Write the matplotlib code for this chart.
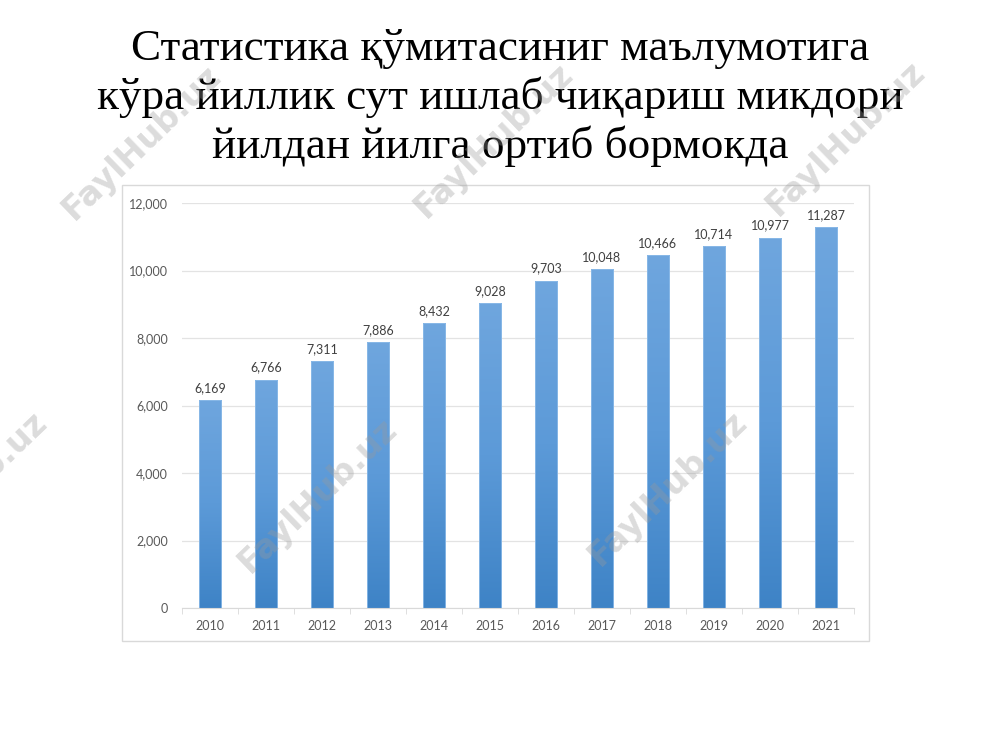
import numpy as np
import matplotlib.pyplot as plt
from matplotlib.ticker import FuncFormatter, MultipleLocator, FixedLocator
from matplotlib.patches import Rectangle
from matplotlib.colors import LinearSegmentedColormap

# data
years = ["2010", "2011", "2012", "2013", "2014", "2015",
         "2016", "2017", "2018", "2019", "2020", "2021"]
milk = [6169, 6766, 7311, 7886, 8432, 9028,
        9703, 10048, 10466, 10714, 10977, 11287]

title = ("Статистика қўмитасиниг маълумотига\n"
         "кўра йиллик сут ишлаб чиқариш микдори\n"
         "йилдан йилга ортиб бормокда")

# watermark centres in pixels (x, y from top)
wm_pos = [(142, 142), (494, 140), (846, 138), (318, 495), (668, 488), (-32, 488)]

plt.rcParams['font.family'] = ['Lato', 'DejaVu Sans']

fig = plt.figure(figsize=(10, 7.5), dpi=100)
fig.patch.set_facecolor("white")

# outer chart frame
fig.add_artist(Rectangle((122 / 1000, 1 - 641 / 750), (869 - 122) / 1000, (641 - 185) / 750,
                         transform=fig.transFigure, fill=False,
                         edgecolor="#d9d9d9", linewidth=1.0))

fig.text(0.5, 1 - 98 / 750, title, ha="center", va="center",
         fontsize=32.5, family="Liberation Serif", linespacing=1.22, color="black")

ax = fig.add_axes([0.182, 1 - 608 / 750, 0.672, 405 / 750])
x = np.arange(len(years))
bars = ax.bar(x, milk, width=0.4, color="none", edgecolor="#8dbbe8",
              linewidth=0.6, zorder=3)

# vertical gradient inside each bar
grad = np.linspace(0, 1, 256).reshape(-1, 1)
cmap = LinearSegmentedColormap.from_list("bar", ["#3e83c6", "#5c9ad8", "#6fa6de"])
for b in bars:
    x0, w, h = b.get_x(), b.get_width(), b.get_height()
    im = ax.imshow(grad, cmap=cmap, aspect="auto", origin="lower",
                   extent=(x0, x0 + w, 0, h), zorder=2)
    im.set_clip_path(b)

for xi, v in zip(x, milk):
    ax.text(xi, v + 180, f"{v:,}", ha="center", va="bottom",
            fontsize=9, color="#404040")

ax.set_xlim(-0.5, len(years) - 0.5)
ax.set_ylim(0, 12000)
ax.yaxis.set_major_locator(MultipleLocator(2000))
ax.yaxis.set_major_formatter(FuncFormatter(lambda v, p: f"{int(v):,}"))
ax.set_xticks(x)
ax.set_xticklabels(years)
ax.xaxis.set_minor_locator(FixedLocator(np.arange(-0.5, len(years), 1.0)))

ax.grid(axis="y", color="#e3e3e3", linewidth=0.9, zorder=0)
ax.set_axisbelow(True)
for s in ["top", "right", "left"]:
    ax.spines[s].set_visible(False)
ax.spines["bottom"].set_color("#d9d9d9")
ax.tick_params(axis="y", length=0, labelsize=9, labelcolor="#595959", pad=10)
ax.tick_params(axis="x", which="major", length=0, labelsize=9,
               labelcolor="#595959", pad=9)
ax.tick_params(axis="x", which="minor", length=4, color="#d9d9d9")

# watermarks (the left one runs off the edge, as in the source)
for px, py in wm_pos:
    fig.text(px / 1000, 1 - py / 750, "FaylHub.uz", rotation=44,
             ha="center", va="center", fontsize=24, fontweight="bold",
             family="DejaVu Sans", color="#9a9a9a", alpha=0.35, zorder=10)

fig.savefig("out.png", dpi=100)
